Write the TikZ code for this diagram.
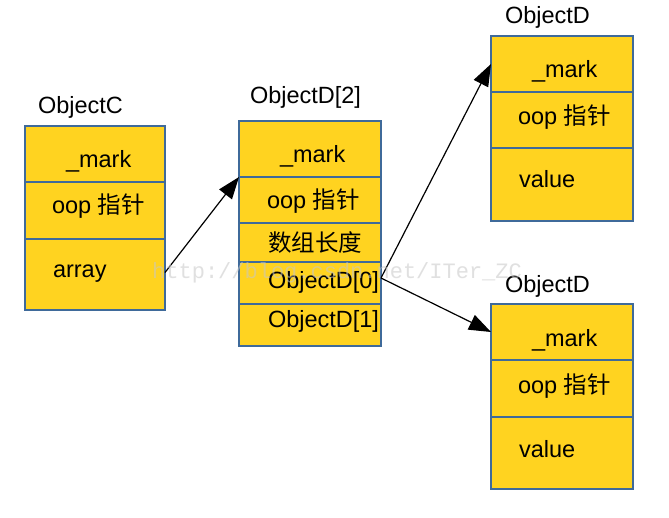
\documentclass[tikz,border=0pt]{standalone}
\usepackage{fontspec}
\setmainfont{Liberation Sans}
\newfontfamily\cjk{Noto Sans CJK SC}
\newfontfamily\wmfont{Liberation Mono}
\usetikzlibrary{arrows.meta}
\definecolor{cellfill}{HTML}{FFD320}
\definecolor{cellline}{HTML}{3F6A9A}
\tikzset{
  cell/.style={draw=cellline, fill=cellfill, line width=1.2pt, minimum width=142pt, anchor=north west, inner sep=0pt, outer sep=0pt},
  txt/.style={anchor=base west, inner sep=0pt, outer sep=0pt, font=\fontsize{23.5}{28}\selectfont},
  ptr/.style={draw=black, line width=1.2pt, -{Triangle[length=22pt,width=16pt]}},
  wm/.style={anchor=base west, inner sep=0pt, text=black!22, opacity=0.55, font=\wmfont\fontsize{22}{26}\selectfont}
}
\begin{document}
\begin{tikzpicture}[x=1pt,y=-1pt]
\useasboundingbox[fill=white] (0,0) rectangle (669,517);
% ObjectC
\node[txt] (lc) at (38,113) {ObjectC};
\node[cell, minimum width=140pt, minimum height=56pt] (c1) at (25,126) {};
\node[cell, minimum width=140pt, minimum height=57pt] (c2) at (25,182) {};
\node[cell, minimum width=140pt, minimum height=71pt] (c3) at (25,239) {};
\node[txt] (tc1) at (66,167) {\_mark};
\node[txt] (tc2) at (52,213) {oop {\cjk 指针}};
\node[txt] (tc3) at (53,277) {array};
% ObjectD[2]
\node[txt] (ld) at (250,103) {ObjectD[2]};
\node[cell, minimum height=56pt] (d1) at (239,121) {};
\node[cell, minimum height=46pt] (d2) at (239,177) {};
\node[cell, minimum height=40pt] (d3) at (239,223) {};
\node[cell, minimum height=42pt] (d4) at (239,262) {};
\node[cell, minimum height=42pt] (d5) at (239,304) {};
\node[txt] (td1) at (280,162) {\_mark};
\node[txt] (td2) at (267,208) {oop {\cjk 指针}};
\node[txt] (td3) at (268,251) {\cjk 数组长度};
\node[txt] (td4) at (268,288) {ObjectD[0]};
\node[txt] (td5) at (268,327) {ObjectD[1]};
% ObjectD top
\node[txt] (le) at (505,23) {ObjectD};
\node[cell, minimum height=56pt] (e1) at (491,36) {};
\node[cell, minimum height=56pt] (e2) at (491,92) {};
\node[cell, minimum height=73pt] (e3) at (491,148) {};
\node[txt] (te1) at (532,77) {\_mark};
\node[txt] (te2) at (518,124) {oop {\cjk 指针}};
\node[txt] (te3) at (519,187) {value};
% ObjectD bottom
\node[txt] (lf) at (505,292) {ObjectD};
\node[cell, minimum height=56pt] (f1) at (491,304) {};
\node[cell, minimum height=57pt] (f2) at (491,360) {};
\node[cell, minimum height=72pt] (f3) at (491,417) {};
\node[txt] (tf1) at (532,346) {\_mark};
\node[txt] (tf2) at (518,393) {oop {\cjk 指针}};
\node[txt] (tf3) at (519,457) {value};
% pointers
\coordinate (s1) at ([yshift=2pt]c3.east);
\coordinate (s2) at ([yshift=5pt]d4.east);
\draw[ptr] (s1) -- (d2.north west);
\draw[ptr] (s2) -- (e1.west);
\draw[ptr] (s2) -- (f1.west);
% watermark
\node[wm] (wmk) at (152,278) {http://blog.csdn.net/ITer\_ZC};
\end{tikzpicture}
\end{document}
